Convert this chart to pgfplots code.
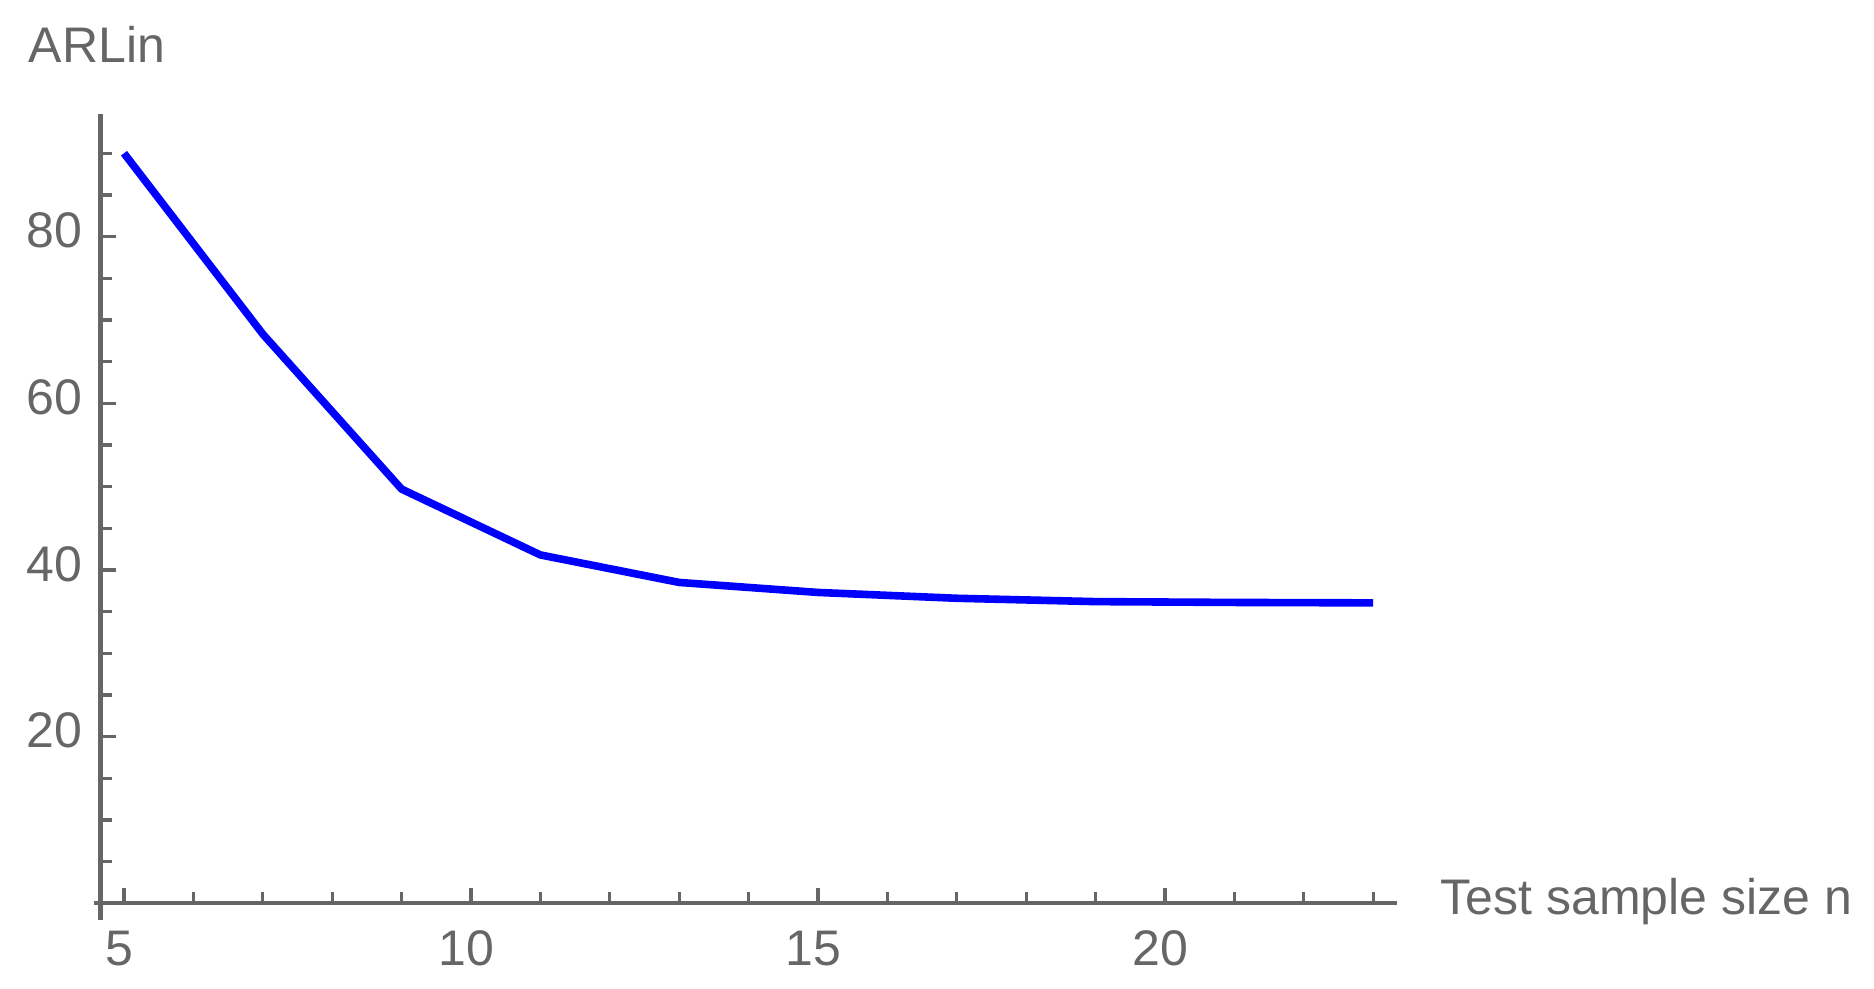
\documentclass[border=0pt]{standalone}
\usepackage{fontspec}
\setmainfont{Liberation Sans}
\usepackage{pgfplots}
\pgfplotsset{compat=1.18}
\definecolor{axgray}{RGB}{102,102,102}
\newcommand{\lblfont}{\fontsize{12.5}{15}\selectfont}
\begin{document}
\begin{tikzpicture}
\begin{axis}[
  scale only axis,
  width=324.03pt, height=197.3pt,
  xmin=4.664, xmax=23.34, ymin=0, ymax=94.7,
  axis lines=left,
  axis line style={axgray, line width=1.1pt, -},
  every outer x axis line/.append style={-},
  every outer y axis line/.append style={-},
  every inner x axis line/.append style={-},
  every inner y axis line/.append style={-},
  tick align=inside,
  xtick={5,10,15,20}, ytick={20,40,60,80},
  minor xtick={6,7,8,9,11,12,13,14,16,17,18,19,21,22,23},
  minor ytick={5,10,15,25,30,35,45,50,55,65,70,75,85,90},
  major tick length=3.9pt, minor tick length=2.8pt,
  every tick/.style={axgray, line width=0.8pt},
  /pgf/number format/assume math mode=true,
  tick label style={font=\lblfont, text=axgray},
  xticklabel style={anchor=north, inner sep=0pt, yshift=-6.7pt, xshift=-1.25pt},
  yticklabel style={anchor=east, inner sep=0pt, xshift=-4.5pt, yshift=1.5pt},
  clip=false,
  xlabel={Test sample size n}, ylabel={ARLin},
  every axis x label/.style={at={(axis description cs:1.0333,-0.0148)}, anchor=base west, inner sep=0pt, font=\lblfont, text=axgray},
  every axis y label/.style={at={(axis description cs:-0.0561,1.0652)}, anchor=base west, inner sep=0pt, font=\lblfont, text=axgray},
]
\path (axis description cs:-0.0777,-0.10859) rectangle (axis description cs:1.36818,1.14458);
\draw[axgray, line width=1.1pt] (axis cs:4.572,0) -- (axis cs:4.664,0);
\draw[axgray, line width=1.1pt] (axis cs:4.664,0) -- (axis cs:4.664,-2);
\addplot[blue, line width=1.9pt, line join=round, mark=none] coordinates {
  (5,90.0) (7,68.3) (9,49.7) (11,41.8) (13,38.5) (15,37.3)
  (17,36.6) (19,36.2) (21,36.1) (23,36.05)
};
\end{axis}
\end{tikzpicture}
\end{document}
